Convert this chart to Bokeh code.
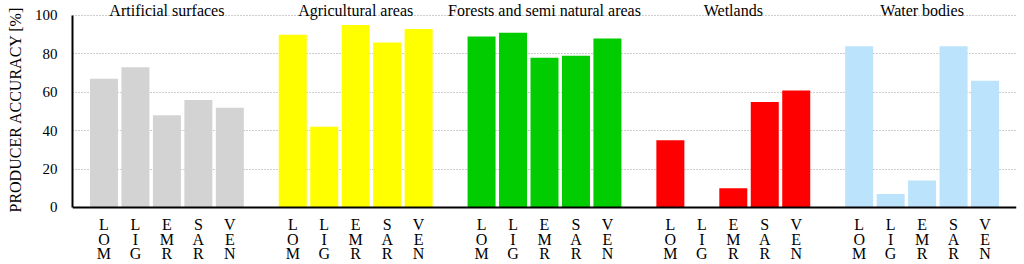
from bokeh.plotting import figure
from bokeh.models import (ColumnDataSource, FactorRange, Range1d, FixedTicker,
                          Span, Title)
from bokeh.core.properties import value
from bokeh.embed import file_html
from bokeh.resources import INLINE

# ---- data ----
groups = ["Artificial surfaces", "Agricultural areas",
          "Forests and semi natural areas", "Wetlands", "Water bodies"]
methods = ["LOM", "LIG", "EMR", "SAR", "VEN"]
artificial = [67, 73, 48, 56, 52]
agricultural = [90, 42, 95, 86, 93]
forests = [89, 91, 78, 79, 88]
wetlands = [35, 0, 10, 55, 61]
water = [84, 7, 14, 84, 66]
group_colors = ["#D3D3D3", "#FFFF00", "#00CC00", "#FF0000", "#BBE3FB"]
y_ticks = [0, 20, 40, 60, 80, 100]
grid_ticks = [20, 40, 60, 80, 100]
y_label = "PRODUCER ACCURACY [%]"

series = [artificial, agricultural, forests, wetlands, water]

x, top, color, l1, l2, l3 = [], [], [], [], [], []
for g, vals, c in zip(groups, series, group_colors):
    for m, v in zip(methods, vals):
        x.append((g, m))
        top.append(v)
        color.append(c)
        l1.append(m[0])
        l2.append(m[1])
        l3.append(m[2])

src = ColumnDataSource(dict(x=x, top=top, color=color, l1=l1, l2=l2, l3=l3,
                            y0=[0] * len(x)))
gsrc = ColumnDataSource(dict(x=groups, y=[100] * len(groups), text=groups))

FONT = "Liberation Serif"

x_range = FactorRange(*x, group_padding=1.0, factor_padding=0.0,
                      subgroup_padding=0.0,
                      range_padding=1.0 / 29, range_padding_units="percent")

p = figure(width=1024, height=264, x_range=x_range,
           y_range=Range1d(-29.69, 107.81), title=None,
           output_backend="svg", toolbar_location=None,
           min_border_left=72, min_border_right=8, min_border_top=0,
           min_border_bottom=0)
p.outline_line_color = None
p.background_fill_color = "white"
p.border_fill_color = "white"

p.vbar(x="x", top="top", width=0.89, source=src, fill_color="color",
       line_color=None)

# y axis
p.yaxis.ticker = FixedTicker(ticks=y_ticks)
p.yaxis.bounds = (0, 100)
p.yaxis.major_label_text_font = FONT
p.yaxis.major_label_text_font_size = "15px"
p.yaxis.major_label_text_color = "black"
p.yaxis.major_label_standoff = 9
p.yaxis.major_tick_line_color = None
p.yaxis.minor_tick_line_color = None
p.yaxis.axis_line_width = 2
p.yaxis.axis_line_color = "black"

p.add_layout(Title(text=y_label, align="left", offset=52, standoff=12,
                   vertical_align="top",
                   text_font=FONT, text_font_size="16px",
                   text_font_style="normal", text_color="black"), "left")

p.xaxis.visible = False

# grid
p.xgrid.grid_line_color = None
p.ygrid.ticker = FixedTicker(ticks=grid_ticks)
p.ygrid.grid_line_color = "#9A9A9A"
p.ygrid.grid_line_dash = "1 2"
p.ygrid.grid_line_width = 1

# baseline
p.add_layout(Span(location=0, dimension="width", line_color="black",
                  line_width=2))

# method labels (stacked letters)
for i, col in enumerate(["l1", "l2", "l3"]):
    p.text(x="x", y="y0", text=col, source=src, y_offset=9 + 14.5 * i,
           text_align="center", text_baseline="top",
           text_font=value(FONT), text_font_size="16px", text_color="black")

# group titles
p.text(x="x", y="y", text="text", source=gsrc, y_offset=-5,
       text_align="center", text_baseline="alphabetic",
       text_font=value(FONT), text_font_size="16px", text_color="black")

open("out.html", "w").write(file_html(p, INLINE))
